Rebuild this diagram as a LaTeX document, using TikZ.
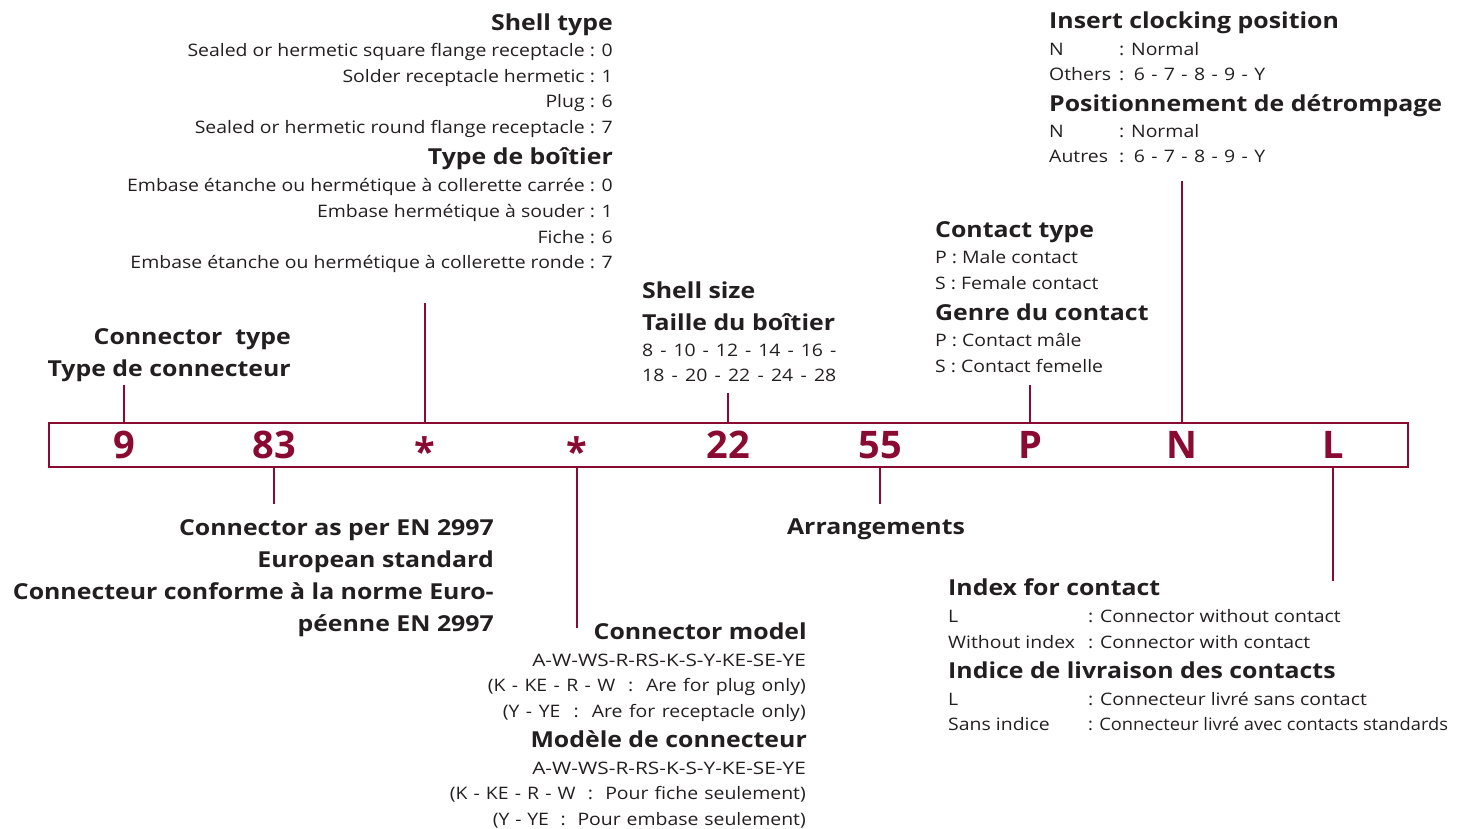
\documentclass[tikz,border=0pt]{standalone}
\usepackage{fontspec}
\setmainfont{Open Sans}[FakeStretch=1.13]
\newfontfamily\codefont{Open Sans}
\definecolor{crim}{RGB}{138,11,50}
\definecolor{ink}{RGB}{35,31,32}
\begin{document}
\begin{tikzpicture}[x=1pt,y=-1pt,
 reg/.style={font=\fontsize{17.2}{20}\selectfont, text=ink, inner sep=0pt},
 hd/.style={font=\bfseries\fontsize{22}{24}\selectfont, text=ink, inner sep=0pt},
 code/.style={font=\codefont\bfseries\fontsize{38}{40}\selectfont, text=crim, inner sep=0pt, anchor=base},
 lead/.style={draw=crim, line width=2pt},
 re/.style={anchor=base east}, le/.style={anchor=base west}
]
\useasboundingbox (0,0) rectangle (1463,829);
\node[draw=crim, line width=1.5pt, minimum width=1359pt, minimum height=44pt, anchor=north west, inner sep=0pt] (box) at (48,422) {};
% codes
\node[code] (c1) at (124,458) {9};
\node[code] (c2) at (274,458) {83};
\node[code] (c3) at (425,465) {*};
\node[code] (c4) at (577,465) {*};
\node[code] (c5) at (728,458) {22};
\node[code] (c6) at (880,458) {55};
\node[code] (c7) at (1030,458) {P};
\node[code] (c8) at (1182,458) {N};
\node[code] (c9) at (1333,458) {L};
% lead end points
\coordinate (e1) at (124,385);
\coordinate (e3) at (425,303);
\coordinate (e5) at (728,393);
\coordinate (e7) at (1030,385);
\coordinate (e8) at (1182,181);
\coordinate (e2) at (274,504);
\coordinate (e4) at (577,628);
\coordinate (e6) at (880,504);
\coordinate (e9) at (1333,581);
\draw[lead] (e1) -- (e1 |- box.north);
\draw[lead] (e3) -- (e3 |- box.north);
\draw[lead] (e5) -- (e5 |- box.north);
\draw[lead] (e7) -- (e7 |- box.north);
\draw[lead] (e8) -- (e8 |- box.north);
\draw[lead] (e2) -- (e2 |- box.south);
\draw[lead] (e4) -- (e4 |- box.south);
\draw[lead] (e6) -- (e6 |- box.south);
\draw[lead] (e9) -- (e9 |- box.south);
% Shell type
\node[hd,re] (st0) at (613,31) {Shell type};
\node[reg,re] (st1) at (613,57) {Sealed or hermetic square flange receptacle : 0};
\node[reg,re] (st2) at (613,82.5) {Solder receptacle hermetic : 1};
\node[reg,re] (st3) at (613,108) {Plug : 6};
\node[reg,re] (st4) at (613,133.5) {Sealed or hermetic round flange receptacle : 7};
\node[hd,re] (sf0) at (613,165) {Type de boîtier};
\node[reg,re] (sf1) at (613,192) {Embase étanche ou hermétique à collerette carrée : 0};
\node[reg,re] (sf2) at (613,217.5) {Embase hermétique à souder : 1};
\node[reg,re] (sf3) at (613,243) {Fiche : 6};
\node[reg,re] (sf4) at (613,268.5) {Embase étanche ou hermétique à collerette ronde : 7};
% Connector type
\node[hd,re] (ct1) at (291,344) {Connector\ \ type};
\node[hd,re] (ct2) at (291,376) {Type de connecteur};
% Shell size
\node[hd,le] (ss1) at (642,298) {Shell size};
\node[hd,le] (ss2) at (642,330) {Taille du boîtier};
\node[reg,le] (ss3) at (642,356) {\makebox[194pt][s]{8 - 10 - 12 - 14 - 16 -}};
\node[reg,le] (ss4) at (642,381) {\makebox[194pt][s]{18 - 20 - 22 - 24 - 28}};
% Contact type
\node[hd,le] (cn0) at (935,237) {Contact type};
\node[reg,le] (cn1) at (935,263) {P : Male contact};
\node[reg,le] (cn2) at (935,289) {S : Female contact};
\node[hd,le] (cn3) at (935,320) {Genre du contact};
\node[reg,le] (cn4) at (935,346) {P : Contact mâle};
\node[reg,le] (cn5) at (935,372) {S : Contact femelle};
% Insert clocking
\node[hd,le] (ic0) at (1049,29) {Insert clocking position};
\node[reg,le] (ic1) at (1049,56) {\makebox[70pt][l]{N}: Normal};
\node[reg,le] (ic2) at (1049,81) {\makebox[70pt][l]{Others}\makebox[146pt][s]{: 6 - 7 - 8 - 9 - Y}};
\node[hd,le] (ic3) at (1049,112) {Positionnement de détrompage};
\node[reg,le] (ic4) at (1049,138) {\makebox[70pt][l]{N}: Normal};
\node[reg,le] (ic5) at (1049,163) {\makebox[70pt][l]{Autres}\makebox[146pt][s]{: 6 - 7 - 8 - 9 - Y}};
% Connector as per EN 2997
\node[hd,re] (en1) at (494,535) {Connector as per EN 2997};
\node[hd,re] (en2) at (494,567) {European standard};
\node[hd,re] (en3) at (494,599) {Connecteur conforme à la norme Euro-};
\node[hd,re] (en4) at (494,631) {péenne EN 2997};
% Arrangements
\node[hd,anchor=base] (ar) at (876,534) {Arrangements};
% Connector model
\node[hd,re] (cm0) at (807,639) {Connector model};
\node[reg,re] (cm1) at (806,666) {\scalebox{1.07}[1]{A-W-WS-R-RS-K-S-Y-KE-SE-YE}};
\node[reg,re] (cm2) at (806,691) {\makebox[318pt][s]{(K - KE - R - W\ \ :\ \ Are for plug only)}};
\node[reg,re] (cm3) at (806,717) {\makebox[303pt][s]{(Y - YE\ \ :\ \ Are for receptacle only)}};
\node[hd,re] (cm4) at (807,747) {Modèle de connecteur};
\node[reg,re] (cm5) at (806,774) {\scalebox{1.07}[1]{A-W-WS-R-RS-K-S-Y-KE-SE-YE}};
\node[reg,re] (cm6) at (806,799) {\makebox[356pt][s]{(K - KE - R - W\ \ :\ \ Pour fiche seulement)}};
\node[reg,re] (cm7) at (806,825) {\makebox[313pt][s]{(Y - YE\ \ :\ \ Pour embase seulement)}};
% Index for contact
\node[hd,le] (ix0) at (948,595) {Index for contact};
\node[reg,le] (ix1) at (948,622) {\makebox[140pt][l]{L}: Connector without contact};
\node[reg,le] (ix2) at (948,648) {\makebox[140pt][l]{Without index}: Connector with contact};
\node[hd,le] (ix3) at (948,678) {Indice de livraison des contacts};
\node[reg,le] (ix4) at (948,705) {\makebox[140pt][l]{L}: Connecteur livré sans contact};
\node[reg,le] (ix5) at (948,730) {\makebox[140pt][l]{Sans indice}\scalebox{0.94}[1]{: Connecteur livré avec contacts standards}};
\end{tikzpicture}
\end{document}
